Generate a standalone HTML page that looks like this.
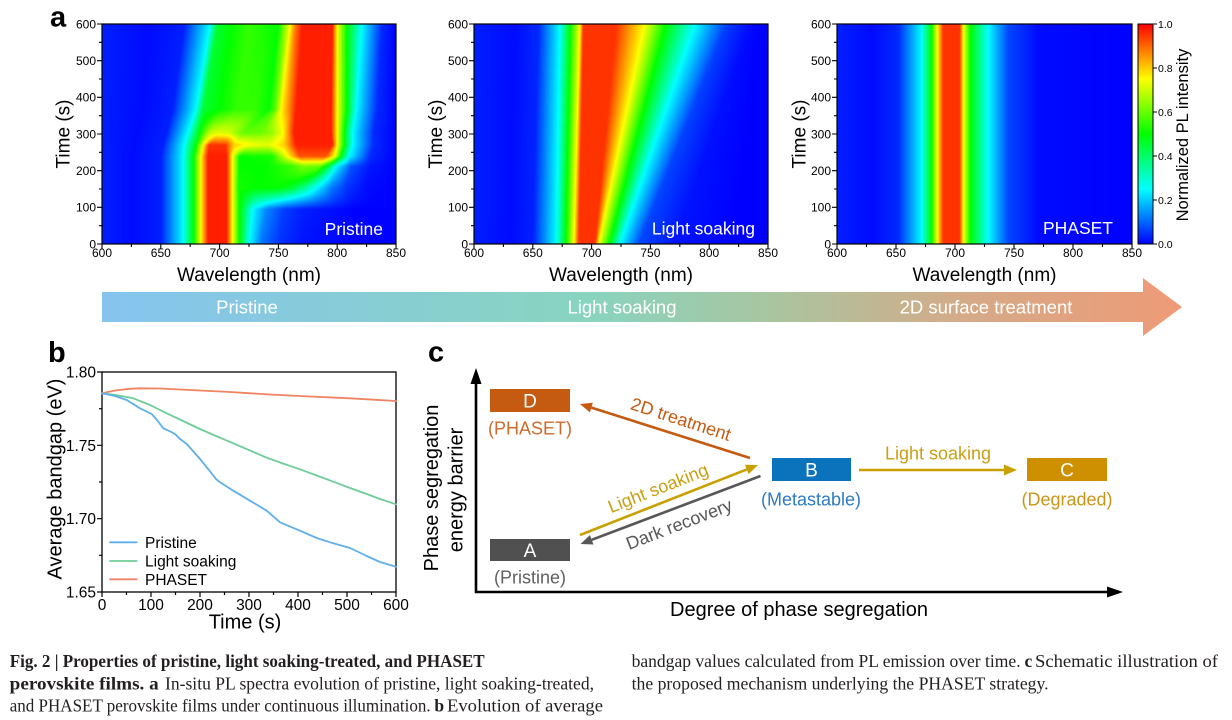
<!DOCTYPE html>
<html><head><meta charset="utf-8">
<style>
html,body{margin:0;padding:0;background:#fff;}
#wrap{position:relative;width:1232px;height:720px;overflow:hidden;background:#fff;}
canvas{position:absolute;background:#0000ff;}
svg{position:absolute;left:0;top:0;}
text{font-family:"Liberation Sans",Arial,sans-serif;}
.cap{font-family:"Liberation Serif","Times New Roman",serif;font-size:17.5px;fill:#231f20;}
.b{font-weight:bold;}
</style></head><body>
<div id="wrap">
<canvas id="h1" width="294" height="220" style="left:102px;top:24px"></canvas>
<canvas id="h2" width="294" height="220" style="left:474px;top:24px"></canvas>
<canvas id="h3" width="295" height="220" style="left:837px;top:24px"></canvas>
<svg width="1232" height="720" viewBox="0 0 1232 720">
<defs>
<linearGradient id="cb" x1="0" y1="1" x2="0" y2="0">
<stop offset="0" stop-color="#0000ff"/><stop offset="0.25" stop-color="#00ffff"/><stop offset="0.5" stop-color="#00ff00"/><stop offset="0.75" stop-color="#ffff00"/><stop offset="1" stop-color="#ff0000"/>
</linearGradient>
<linearGradient id="bn" x1="102" y1="0" x2="1182" y2="0" gradientUnits="userSpaceOnUse">
<stop offset="0" stop-color="#86c4f0"/><stop offset="0.45" stop-color="#88d4bf"/><stop offset="0.62" stop-color="#a9c5a0"/><stop offset="0.8" stop-color="#d5aa88"/><stop offset="1" stop-color="#ef9a76"/>
</linearGradient>
</defs>

<!-- Panel a frames -->
<g fill="none" stroke="#000" stroke-width="1.2">
<rect x="102" y="24" width="294" height="220"/>
<rect x="474" y="24" width="294" height="220"/>
<rect x="837" y="24" width="295" height="220"/>
<rect x="1138" y="24" width="15" height="220" fill="url(#cb)" stroke-width="1"/>
</g>
<g stroke="#000" stroke-width="1.1" fill="none">
<path d="M97 244H102M97 207.33H102M97 170.67H102M97 134H102M97 97.33H102M97 60.67H102M97 24H102M99 225.67H102M99 189H102M99 152.33H102M99 115.67H102M99 79H102M99 42.33H102"/>
<path d="M102 244V249M160.8 244V249M219.6 244V249M278.4 244V249M337.2 244V249M396 244V249M131.4 244V247M190.2 244V247M249 244V247M307.8 244V247M366.6 244V247"/>
<path d="M469 244H474M469 207.33H474M469 170.67H474M469 134H474M469 97.33H474M469 60.67H474M469 24H474M471 225.67H474M471 189H474M471 152.33H474M471 115.67H474M471 79H474M471 42.33H474"/>
<path d="M474 244V249M532.8 244V249M591.6 244V249M650.4 244V249M709.2 244V249M768 244V249M503.4 244V247M562.2 244V247M621 244V247M679.8 244V247M738.6 244V247"/>
<path d="M832 244H837M832 207.33H837M832 170.67H837M832 134H837M832 97.33H837M832 60.67H837M832 24H837M834 225.67H837M834 189H837M834 152.33H837M834 115.67H837M834 79H837M834 42.33H837"/>
<path d="M837 244V249M896 244V249M955 244V249M1014 244V249M1073 244V249M1132 244V249M866.5 244V247M925.5 244V247M984.5 244V247M1043.5 244V247M1102.5 244V247"/>
<path d="M1153 24H1157M1153 68H1157M1153 112H1157M1153 156H1157M1153 200H1157M1153 244H1157"/>
</g>
<g font-size="12" text-anchor="end" fill="#000">
<text x="96" y="248.3">0</text><text x="96" y="211.6">100</text><text x="96" y="175">200</text><text x="96" y="138.3">300</text><text x="96" y="101.6">400</text><text x="96" y="65">500</text><text x="96" y="28.3">600</text>
<text x="468" y="248.3">0</text><text x="468" y="211.6">100</text><text x="468" y="175">200</text><text x="468" y="138.3">300</text><text x="468" y="101.6">400</text><text x="468" y="65">500</text><text x="468" y="28.3">600</text>
<text x="831" y="248.3">0</text><text x="831" y="211.6">100</text><text x="831" y="175">200</text><text x="831" y="138.3">300</text><text x="831" y="101.6">400</text><text x="831" y="65">500</text><text x="831" y="28.3">600</text>
</g>
<g font-size="12" text-anchor="middle" fill="#000">
<text x="102" y="257">600</text><text x="160.8" y="257">650</text><text x="219.6" y="257">700</text><text x="278.4" y="257">750</text><text x="337.2" y="257">800</text><text x="396" y="257">850</text>
<text x="474" y="257">600</text><text x="532.8" y="257">650</text><text x="591.6" y="257">700</text><text x="650.4" y="257">750</text><text x="709.2" y="257">800</text><text x="768" y="257">850</text>
<text x="837" y="257">600</text><text x="896" y="257">650</text><text x="955" y="257">700</text><text x="1014" y="257">750</text><text x="1073" y="257">800</text><text x="1132" y="257">850</text>
</g>
<g font-size="10.5" fill="#000">
<text x="1158" y="27.8">1.0</text><text x="1158" y="71.8">0.8</text><text x="1158" y="115.8">0.6</text><text x="1158" y="159.8">0.4</text><text x="1158" y="203.8">0.2</text><text x="1158" y="247.8">0.0</text>
</g>
<g font-size="19" text-anchor="middle" fill="#000">
<text x="249" y="281">Wavelength (nm)</text>
<text x="621" y="281">Wavelength (nm)</text>
<text x="984.5" y="281">Wavelength (nm)</text>
<text transform="translate(69.5,134) rotate(-90)">Time (s)</text>
<text transform="translate(442,134) rotate(-90)">Time (s)</text>
<text transform="translate(805.5,134) rotate(-90)">Time (s)</text>
</g>
<text transform="translate(1188,135) rotate(-90)" font-size="16.5" text-anchor="middle" fill="#000">Normalized PL intensity</text>
<g font-size="17.5" text-anchor="end" fill="#fff">
<text x="383" y="234.8">Pristine</text>
<text x="755" y="234.6">Light soaking</text>
<text x="1113" y="234">PHASET</text>
</g>
<text x="50" y="26.5" font-size="29" font-weight="bold" fill="#000">a</text>

<!-- Banner -->
<path d="M102 292H1143V278L1182 307L1143 336V322H102Z" fill="url(#bn)"/>
<g font-size="18.5" text-anchor="middle" fill="#fff">
<text x="247" y="313.6">Pristine</text>
<text x="622" y="313.6">Light soaking</text>
<text x="986" y="313.6">2D surface treatment</text>
</g>

<!-- Panel b -->
<text x="48" y="362" font-size="29" font-weight="bold" fill="#000">b</text>
<rect x="102" y="372" width="294" height="220" fill="none" stroke="#000" stroke-width="1.3"/>
<g stroke="#000" stroke-width="1.2" fill="none">
<path d="M97 372H102M97 445.33H102M97 518.67H102M97 592H102M99 408.67H102M99 482H102M99 555.33H102"/>
<path d="M102 592V597M151 592V597M200 592V597M249 592V597M298 592V597M347 592V597M396 592V597M126.5 592V595M175.5 592V595M224.5 592V595M273.5 592V595M322.5 592V595M371.5 592V595"/>
</g>
<g font-size="15.5" text-anchor="end" fill="#000">
<text x="96" y="377.5">1.80</text><text x="96" y="450.8">1.75</text><text x="96" y="524.2">1.70</text><text x="96" y="597.5">1.65</text>
</g>
<g font-size="15.5" text-anchor="middle" fill="#000">
<text x="102" y="610">0</text><text x="151" y="610">100</text><text x="200" y="610">200</text><text x="249" y="610">300</text><text x="298" y="610">400</text><text x="347" y="610">500</text><text x="396" y="610">600</text>
</g>
<text x="245" y="628.5" font-size="20" text-anchor="middle" fill="#000">Time (s)</text>
<text transform="translate(61.5,479) rotate(-90)" font-size="20" text-anchor="middle" fill="#000">Average bandgap (eV)</text>
<g fill="none" stroke-width="1.8" stroke-linejoin="round" stroke-linecap="round">
<polyline stroke="#f08462" points="102,393.3 115,390.5 130,388.8 140,388.3 160,388.5 190,390 230,392 270,394.5 310,396.5 350,398.3 396,401"/>
<polyline stroke="#6fcd98" points="102,393.3 116,395 133.3,398.3 150,405 166.7,413.3 183,421 200,429 216,436 233.3,443.3 250,450.5 266.7,457.7 283,463.5 300,469.3 316.7,475.5 333.3,481.7 350,488 366.7,494 380,499 396,504.3"/>
<polyline stroke="#5fb0ea" points="102,393.3 115,396 126.7,400 140,408.3 151.7,414 157,420 163.3,428.3 170,431.3 175,434 180,439 186.7,444 193,451 200,459 210,471.3 216,479 220,482.3 233.3,490.7 250,500.7 266.7,510.7 280,522.3 300,530.7 316.7,538 333.3,543.3 350,548 366.7,556 380,562 396,566.7"/>
<line x1="110" y1="542.3" x2="136.7" y2="542.3" stroke="#5fb0ea"/>
<line x1="110" y1="561" x2="136.7" y2="561" stroke="#6fcd98"/>
<line x1="110" y1="579.3" x2="136.7" y2="579.3" stroke="#f08462"/>
</g>
<g font-size="15.5" fill="#000">
<text x="145" y="548">Pristine</text>
<text x="145" y="566.6">Light soaking</text>
<text x="145" y="585">PHASET</text>
</g>

<!-- Panel c -->
<text x="428" y="361.5" font-size="29" font-weight="bold" fill="#000">c</text>
<g stroke="#000" stroke-width="2.6">
<line x1="476" y1="593" x2="476" y2="382"/>
<line x1="475" y1="592" x2="1108" y2="592"/>
</g>
<polygon points="476,368 470.5,384 481.5,384" fill="#000"/>
<polygon points="1123,592 1107,586.5 1107,597.5" fill="#000"/>
<text transform="translate(438,488) rotate(-90)" font-size="20" text-anchor="middle" fill="#000">Phase segregation</text>
<text transform="translate(462.5,490) rotate(-90)" font-size="20" text-anchor="middle" fill="#000">energy barrier</text>
<text x="799" y="616" font-size="20" text-anchor="middle" fill="#000">Degree of phase segregation</text>

<rect x="490" y="389" width="80" height="23" fill="#c55a11"/>
<rect x="490" y="539" width="80" height="22" fill="#505050"/>
<rect x="772" y="458" width="79" height="23" fill="#0b73bc"/>
<rect x="1027" y="458" width="80" height="23" fill="#cf9000"/>
<g font-size="19" text-anchor="middle" fill="#fff">
<text x="530" y="407.3">D</text>
<text x="530" y="557">A</text>
<text x="811.5" y="476.3">B</text>
<text x="1067" y="476.3">C</text>
</g>
<g font-size="18" text-anchor="middle">
<text x="530" y="434.5" fill="#cf6a2a">(PHASET)</text>
<text x="530" y="583.5" fill="#606060">(Pristine)</text>
<text x="811" y="505.5" fill="#2e7bc2">(Metastable)</text>
<text x="1067" y="505.5" fill="#c9961a">(Degraded)</text>
<text x="938" y="459.5" fill="#c9a012">Light soaking</text>
</g>
<g stroke-width="2.6">
<line x1="750" y1="458" x2="591.4" y2="407.6" stroke="#c55a11"/>
<line x1="580" y1="535" x2="746.8" y2="469.4" stroke="#c9a000"/>
<line x1="760.5" y1="476" x2="591.7" y2="539.8" stroke="#575757"/>
<line x1="859" y1="470" x2="1005" y2="470" stroke="#c9a000"/>
</g>
<polygon points="580,404 592.9,402.8 589.9,412.4" fill="#c55a11"/>
<polygon points="758,465 748.6,474.1 745,464.8" fill="#c9a000"/>
<polygon points="580.5,544 589.9,535.1 593.5,544.5" fill="#575757"/>
<polygon points="1017,470 1004,464.5 1004,475.5" fill="#c9a000"/>
<g font-size="18" text-anchor="middle">
<text transform="translate(681,419) rotate(17.9)" dy="0.35em" fill="#c55a11">2D treatment</text>
<text transform="translate(658,488) rotate(-21.5)" dy="0.35em" fill="#c9a012">Light soaking</text>
<text transform="translate(679,524) rotate(-21)" dy="0.35em" fill="#575757">Dark recovery</text>
</g>

<!-- Caption -->
<text class="cap b" x="9.7" y="667" textLength="475" lengthAdjust="spacingAndGlyphs">Fig. 2 | Properties of pristine, light soaking-treated, and PHASET</text>
<text class="cap b" x="9.7" y="689.5" textLength="149" lengthAdjust="spacingAndGlyphs">perovskite films. a</text>
<text class="cap" x="165" y="689.5" textLength="429" lengthAdjust="spacingAndGlyphs">In-situ PL spectra evolution of pristine, light soaking-treated,</text>
<text class="cap" x="9.7" y="711.5" textLength="421" lengthAdjust="spacingAndGlyphs">and PHASET perovskite films under continuous illumination.</text>
<text class="cap b" x="434.4" y="711.5">b</text>
<text class="cap" x="447" y="711.5" textLength="156" lengthAdjust="spacingAndGlyphs">Evolution of average</text>
<text class="cap" x="631.6" y="667" textLength="389" lengthAdjust="spacingAndGlyphs">bandgap values calculated from PL emission over time.</text>
<text class="cap b" x="1024.5" y="667">c</text>
<text class="cap" x="1035" y="667" textLength="183" lengthAdjust="spacingAndGlyphs">Schematic illustration of</text>
<text class="cap" x="631.6" y="689.5" textLength="417" lengthAdjust="spacingAndGlyphs">the proposed mechanism underlying the PHASET strategy.</text>
</svg>
</div>
<script>
(function(){
function cm(v){
 v=v<0?0:(v>1?1:v);
 var s=[[0,0,0,255],[0.25,0,255,255],[0.5,0,255,0],[0.75,255,255,0],[1,255,0,0]];
 for(var i=1;i<s.length;i++){
  if(v<=s[i][0]){var a=s[i-1],b=s[i],f=(v-a[0])/(b[0]-a[0]);
   return [a[1]+(b[1]-a[1])*f,a[2]+(b[2]-a[2])*f,a[3]+(b[3]-a[3])*f];}
 }
 return [255,0,0];
}
function prof(k,l){
 if(l<=k[0][0])return k[0][1];
 for(var i=1;i<k.length;i++){
  if(l<=k[i][0]){var a=k[i-1],b=k[i];var f=(l-a[0])/((b[0]-a[0])||1);return a[1]+(b[1]-a[1])*f;}
 }
 return k[k.length-1][1];
}
function rowK(kf,t){
 if(t<=kf[0][0])return kf[0][1];
 for(var i=1;i<kf.length;i++){
  if(t<=kf[i][0]){
   var f=(t-kf[i-1][0])/(kf[i][0]-kf[i-1][0]),A=kf[i-1][1],B=kf[i][1],r=[];
   for(var j=0;j<A.length;j++)r.push([A[j][0]+(B[j][0]-A[j][0])*f,A[j][1]+(B[j][1]-A[j][1])*f]);
   return r;
  }
 }
 return kf[kf.length-1][1];
}
function draw(id,kf){
 var c=document.getElementById(id);if(!c||!c.getContext)return;
 var ctx=c.getContext('2d'),W=c.width,H=c.height,img=ctx.createImageData(W,H),d=img.data;
 for(var y=0;y<H;y++){
  var t=600*(1-(y+0.5)/H),k=rowK(kf,t);
  for(var x=0;x<W;x++){
   var l=600+(x+0.5)/W*250,col=cm(prof(k,l)),i=(y*W+x)*4;
   d[i]=col[0];d[i+1]=col[1];d[i+2]=col[2];d[i+3]=255;
  }
 }
 ctx.putImageData(img,0,0);
}
var P=[
[0,[[600,.03],[625,.01],[650,.03],[669,.25],[678,.5],[684,.75],[690,.97],[706,.97],[711,.75],[717,.5],[725,.25],[735,.12],[750,.05],[770,.02],[785,.01],[800,.01],[815,0],[830,0],[850,0]]],
[95,[[600,.03],[625,.01],[650,.03],[669,.25],[678,.5],[684,.75],[690,.97],[706,.97],[711,.75],[717,.5],[728,.25],[740,.13],[755,.06],[770,.03],[785,.02],[800,.01],[815,0],[830,0],[850,0]]],
[153,[[600,.03],[625,.01],[650,.03],[669,.25],[678,.5],[684,.75],[690,.97],[706,.97],[711,.75],[716,.52],[730,.5],[750,.5],[762,.45],[771,.37],[782,.25],[795,.12],[808,.05],[825,.01],[850,0]]],
[212,[[600,.03],[625,.01],[650,.03],[669,.25],[678,.5],[684,.75],[690,.97],[706,.97],[711,.75],[717,.5],[740,.5],[760,.55],[772,.62],[785,.6],[792,.45],[799,.25],[812,.08],[828,.02],[850,0]]],
[239,[[600,.03],[625,.01],[650,.03],[669,.25],[678,.5],[684,.75],[690,.97],[706,.97],[711,.75],[717,.5],[745,.52],[758,.75],[768,.92],[790,.92],[798,.75],[803,.5],[810,.25],[828,.04],[850,0]]],
[270,[[600,.03],[627,.01],[652,.03],[670,.25],[680,.5],[686,.75],[691,.95],[705,.95],[712,.8],[725,.75],[740,.72],[755,.8],[765,.97],[796,.97],[800,.75],[806,.5],[813,.25],[831,.04],[850,0]]],
[303,[[600,.03],[630,.01],[655,.03],[673,.25],[683,.5],[692,.7],[700,.72],[708,.7],[720,.6],[735,.6],[745,.65],[754,.75],[763,.97],[795,.97],[800,.75],[806,.5],[813,.25],[831,.04],[850,0]]],
[367,[[600,.03],[635,.01],[660,.03],[680,.25],[686,.45],[700,.5],[715,.55],[730,.55],[742,.5],[748,.6],[752,.75],[758,.85],[765,.97],[795,.97],[800,.75],[808,.5],[816,.25],[834,.04],[850,0]]],
[600,[[600,.03],[640,.01],[670,.03],[692,.25],[698,.45],[710,.5],[725,.55],[740,.52],[750,.5],[755,.62],[760,.75],[764,.87],[770,.97],[796,.97],[800,.75],[808,.5],[821,.25],[838,.04],[850,0]]]
];
var L=[
[0,[[600,.03],[630,.01],[650,.03],[670,.25],[678,.5],[685,.75],[689,.95],[703,.95],[706,.75],[715,.5],[724,.25],[740,.07],[770,.02],[820,0],[850,0]]],
[600,[[600,.03],[635,.01],[655,.04],[673,.25],[682,.5],[690,.75],[693,.95],[721,.95],[745,.75],[763,.5],[788,.25],[815,.06],[835,.01],[845,0],[850,0]]]
];
var S=[
[0,[[600,.03],[630,.01],[652,.04],[672,.25],[680,.5],[685,.75],[690,.95],[704,.95],[707,.75],[713,.5],[728,.25],[745,.07],[770,.01],[850,0]]]
];
draw('h1',P);draw('h2',L);draw('h3',S);
})();
</script>
</body></html>
